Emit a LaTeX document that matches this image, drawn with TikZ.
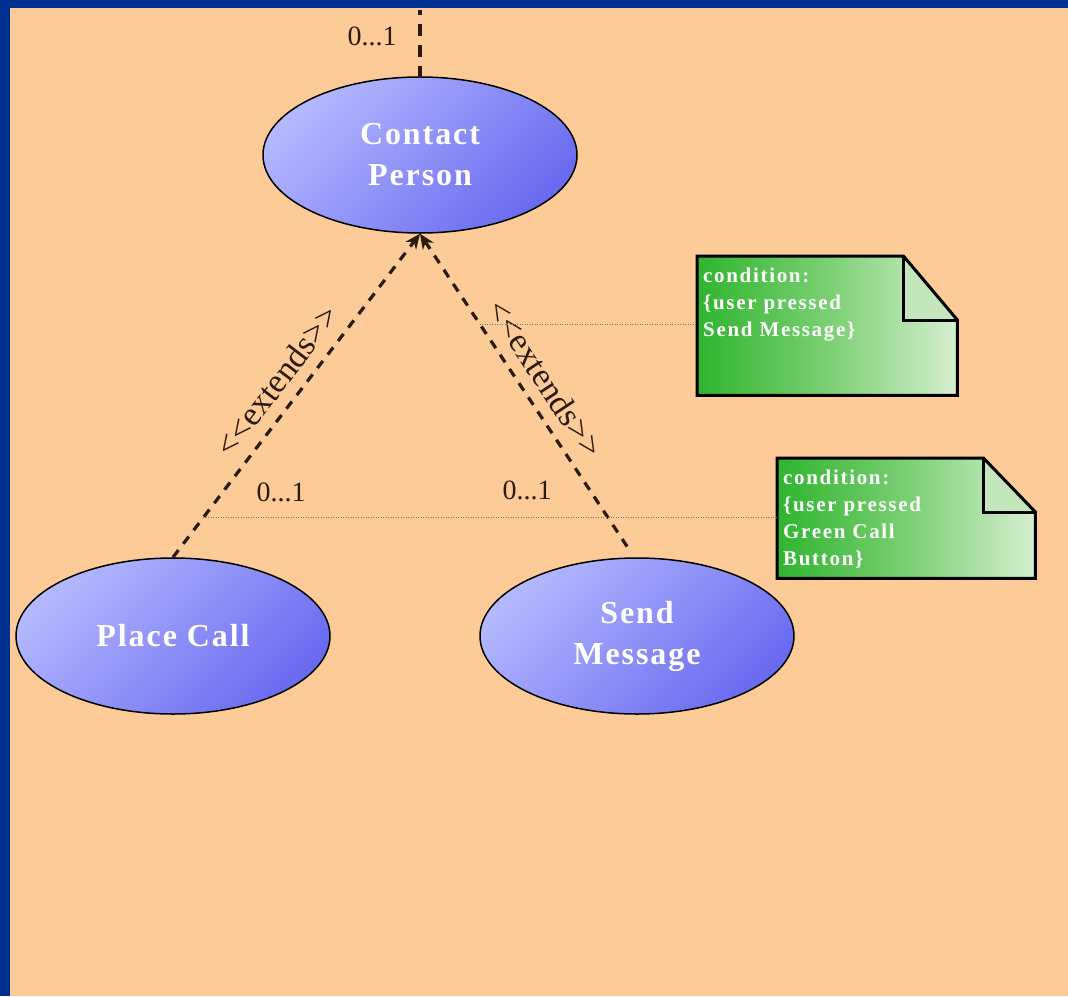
\documentclass[tikz,border=0pt]{standalone}
\usepackage{fontspec}
\setmainfont{Liberation Serif}
\newfontfamily\casefont[LetterSpace=6]{Liberation Serif}
\newfontfamily\notefont[LetterSpace=8]{Liberation Serif}
\usetikzlibrary{shapes.geometric,arrows.meta,calc}
\definecolor{page}{HTML}{FCCB98}
\definecolor{frame}{HTML}{00308F}
\definecolor{ink}{HTML}{2A1A10}
\definecolor{caseLight}{HTML}{B4B8FF}
\definecolor{caseDark}{HTML}{6A6AF0}
\definecolor{noteDark}{HTML}{2FB52F}
\definecolor{noteMid}{HTML}{7ACF72}
\definecolor{noteLight}{HTML}{D6EFD0}
\definecolor{foldFill}{HTML}{C4E6BC}
\definecolor{guideInk}{HTML}{8A7060}
% folded-corner note drawn around an empty box node: #1 name, #2 fold width, #3 fold height
\newcommand\foldednote[3]{%
  \fill[left color=noteDark, right color=noteLight, middle color=noteMid]
    (#1.south west) -- (#1.north west) -- ($(#1.north east)+(-#2,0)$)
    -- ($(#1.north east)+(0,#3)$) -- (#1.south east) -- cycle;
  \fill[foldFill] ($(#1.north east)+(-#2,0)$) -- ($(#1.north east)+(-#2,#3)$)
    -- ($(#1.north east)+(0,#3)$) -- cycle;
  \draw[line width=3pt, line join=miter]
    (#1.south west) -- (#1.north west) -- ($(#1.north east)+(-#2,0)$)
    -- ($(#1.north east)+(0,#3)$) -- (#1.south east) -- cycle;
  \draw[line width=3pt, line join=miter]
    ($(#1.north east)+(-#2,0)$) -- ($(#1.north east)+(-#2,#3)$) -- ($(#1.north east)+(0,#3)$);
}
\begin{document}
\begin{tikzpicture}[x=1pt, y=-1pt,
  usecase/.style={ellipse, draw=black, line width=1.5pt,
    minimum width=314pt, minimum height=156pt, inner sep=0pt,
    top color=caseLight, bottom color=caseDark, shading angle=45,
    text=white, align=center,
    font=\casefont\bfseries\fontsize{32}{41}\selectfont},
  conn/.style={draw=ink, line width=3.2pt, dash pattern=on 9pt off 8pt},
  mult/.style={text=ink, inner sep=0pt, font=\fontsize{28}{30}\selectfont},
  extlabel/.style={text=ink, inner sep=0pt, sloped, font=\fontsize{34}{36}\selectfont},
  guide/.style={draw=guideInk, line width=0.6pt, dash pattern=on 1pt off 1.5pt},
  notebox/.style={rectangle, inner sep=0pt, anchor=north west},
  notetext/.style={anchor=north west, align=left, inner sep=0pt, text=white,
    font=\notefont\bfseries\fontsize{21}{27}\selectfont}
]
\useasboundingbox (0,0) rectangle (1068,996);
\fill[frame] (0,0) rectangle (1068,996);
\fill[page] (10,8) rectangle (1068,996);

% use cases
\node[usecase] (contact) at (420,155) {Contact\\Person};
\node[usecase] (place) at (173,636) {Place Call};
\node[usecase] (send) at (637,636) {Send\\Message};

% association leaving the top
\coordinate (topend) at (420,10);
\draw[conn, dash pattern=on 12pt off 9pt] ([yshift=-2pt]contact.north) -- (topend);
\node[mult] (m0) at (372,36) {0...1};

% extend relations
\draw[conn, -{Stealth[length=15pt, width=13pt]}] (place.north)
  -- node[extlabel, pos=0.5, above=11pt] (ext1) {<\kern0pt<extends>\kern0pt>}
     coordinate[pos=0.123] (g2) (contact.south);
\draw[conn, {Stealth[length=15pt, width=13pt]}-, shorten >=10pt] (contact.south)
  -- node[extlabel, pos=0.49, above=11pt] (ext2) {<\kern0pt<extends>\kern0pt>}
     coordinate[pos=0.28] (g1) (send.92);
\node[mult] (m1) at (281,492) {0...1};
\node[mult] (m2) at (527,490) {0...1};

% condition notes
\node[notebox, minimum width=260pt, minimum height=139pt] (n1) at (697,256) {};
\foldednote{n1}{54}{64}
\node[notetext] (t1) at ([shift={(6,12)}]n1.north west) {condition:\\\{user pressed\\Send Message\}};

\node[notebox, minimum width=258pt, minimum height=120pt] (n2) at (777,458) {};
\foldednote{n2}{52}{54}
\node[notetext] (t2) at ([shift={(6,12)}]n2.north west) {condition:\\\{user pressed\\Green Call\\Button\}};

% note attachments
\draw[guide] (g1) -- (g1 -| n1.west);
\draw[guide] (g2) -- (g2 -| n2.west);
\end{tikzpicture}
\end{document}
